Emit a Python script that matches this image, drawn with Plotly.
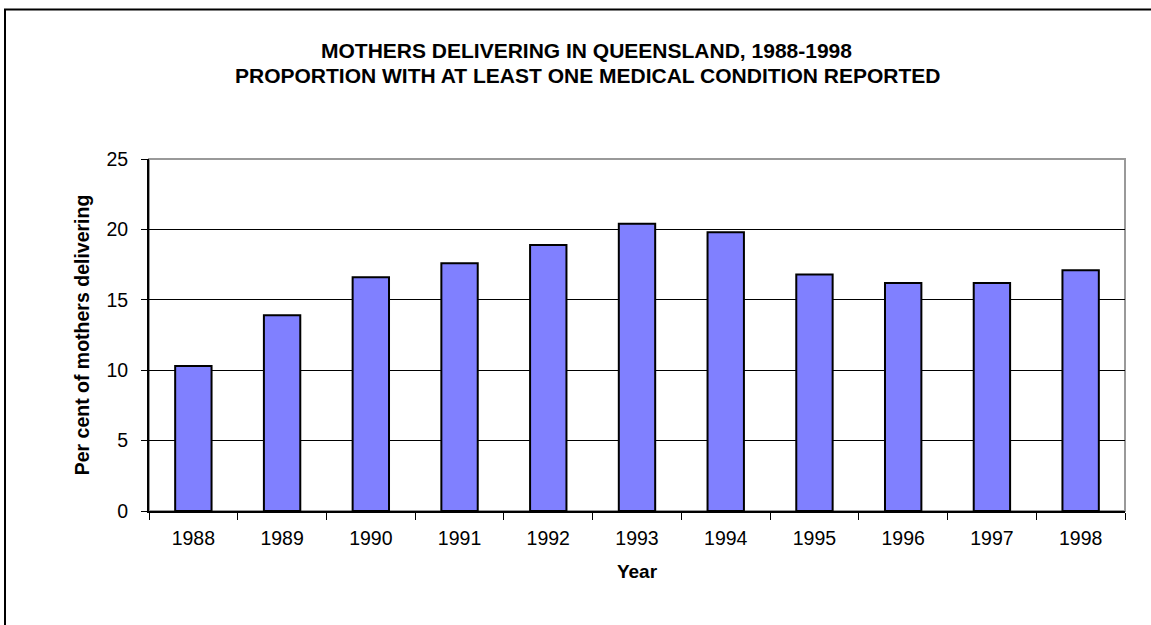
import plotly.graph_objects as go

years = ["1988", "1989", "1990", "1991", "1992", "1993", "1994", "1995", "1996", "1997", "1998"]
percent = [10.3, 13.9, 16.6, 17.6, 18.9, 20.4, 19.8, 16.8, 16.2, 16.2, 17.1]
y_ticks = [0, 5, 10, 15, 20, 25]

W, H = 1151, 625
L, R, T, B = 149, 26, 159, 114
pw, ph = W - L - R, H - T - B

def px_x(x):
    return (x - L) / pw

def px_y(y):
    return (H - B - y) / ph

font = "Liberation Sans, Arial, sans-serif"

fig = go.Figure(go.Bar(
    x=years, y=percent,
    marker=dict(color="#8080FF", line=dict(color="black", width=2)),
    width=0.41,
))

fig.update_layout(
    width=W, height=H,
    margin=dict(l=L, r=R, t=T, b=B, pad=0),
    paper_bgcolor="white", plot_bgcolor="white",
    showlegend=False,
    font=dict(family=font, size=19, color="black"),
    xaxis=dict(
        type="category", tickson="boundaries", ticks="outside", ticklen=7,
        tickcolor="black", tickwidth=1, showline=True, linecolor="black", linewidth=2,
        showgrid=False, mirror=False,
        tickfont=dict(size=19.5), ticklabelstandoff=9,
        title=dict(text="<b>Year</b>", font=dict(size=19), standoff=16),
    ),
    yaxis=dict(
        range=[0, 25], tickvals=y_ticks, ticks="outside", ticklen=6, tickcolor="black",
        showline=True, linecolor="black", linewidth=2,
        showgrid=True, gridcolor="black", gridwidth=1, zeroline=False,
        tickfont=dict(size=19.5), ticklabelstandoff=9,
        title=dict(text="<b>Per cent of mothers delivering</b>", font=dict(size=19.5), standoff=12),
    ),
    shapes=[
        dict(type="rect", xref="paper", yref="paper", x0=0, x1=1, y0=0, y1=1,
             line=dict(color="#999999", width=2), layer="below"),
        dict(type="rect", xref="paper", yref="paper",
             x0=px_x(5), x1=px_x(1200), y0=px_y(700), y1=px_y(9.5),
             line=dict(color="black", width=2), layer="below"),
    ],
    annotations=[
        dict(text="<b>MOTHERS DELIVERING IN QUEENSLAND, 1988-1998</b>",
             xref="paper", yref="paper", x=px_x(586), y=px_y(50),
             xanchor="center", yanchor="middle", showarrow=False, font=dict(size=21)),
        dict(text="<b>PROPORTION WITH AT LEAST ONE MEDICAL CONDITION REPORTED</b>",
             xref="paper", yref="paper", x=px_x(587), y=px_y(75),
             xanchor="center", yanchor="middle", showarrow=False, font=dict(size=21)),
    ],
)

fig.write_html("out.html", config={"displayModeBar": False},
               post_script="document.body.style.margin='0';")
